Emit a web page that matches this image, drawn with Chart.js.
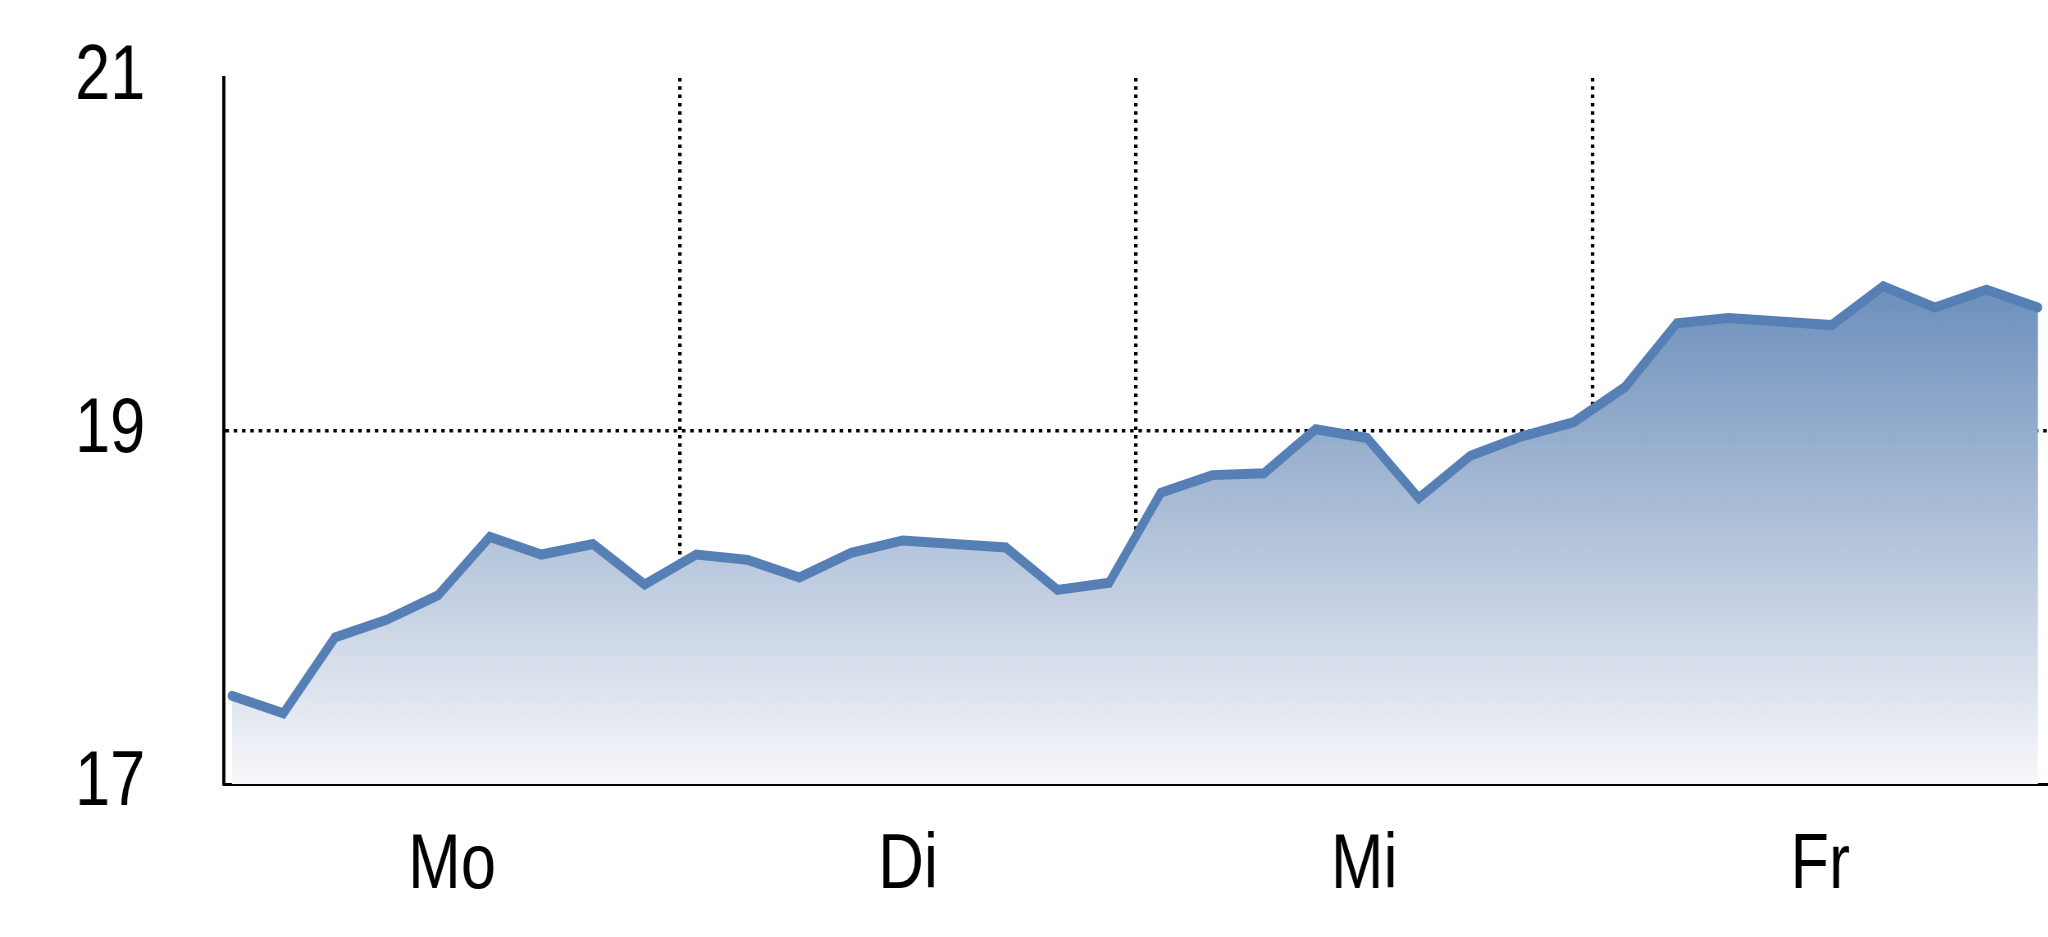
<!DOCTYPE html>
<html>
<head>
<meta charset="utf-8">
<script src="https://cdn.jsdelivr.net/npm/chart.js@4"></script>
<style>
  html, body { margin: 0; padding: 0; background: #fff; overflow: hidden; }
  #wrap { width: 2048px; height: 937px; position: relative; overflow: hidden; }
  /* the labels in the original use a narrow face: draw wider, squeeze back to 2048 */
  #chart { transform: scaleX(0.82); transform-origin: 0 0; }
</style>
</head>
<body>
<div id="wrap"><canvas id="chart" width="2498" height="937"></canvas></div>
<script>
// day labels on the x axis
const days = ['Mo', 'Di', 'Mi', 'Fr'];

// y axis ticks
const yTicks = [17, 19, 21];

// readings, one every step
const steps = [0, 1, 2, 3, 4, 5, 6, 7, 8, 9, 10, 11, 12, 13, 14, 15, 16, 17,
               18, 19, 20, 21, 22, 23, 24, 25, 26, 27, 28, 29, 30, 31, 32, 33, 34, 35];
const values = [17.50, 17.40, 17.83, 17.93, 18.07, 18.40, 18.30, 18.36, 18.13,
                18.30, 18.27, 18.17, 18.31, 18.38, 18.36, 18.34, 18.10, 18.14,
                18.65, 18.75, 18.76, 19.01, 18.96, 18.62, 18.86, 18.97, 19.05,
                19.25, 19.61, 19.64, 19.62, 19.60, 19.82, 19.70, 19.80, 19.70];

const SQUEEZE = 0.82; // same as the css scaleX
const fontFamily = "'Liberation Sans', Arial, sans-serif";

const canvas = document.getElementById('chart');

function areaGradient(context) {
    const { ctx, chartArea } = context.chart;
    if (!chartArea) return 'rgba(110,145,188,0.5)';
    const g = ctx.createLinearGradient(0, chartArea.top, 0, chartArea.bottom);
    g.addColorStop(0, 'rgb(92,128,178)');
    g.addColorStop(0.32, 'rgb(112,147,190)');
    g.addColorStop(0.55, 'rgb(158,180,209)');
    g.addColorStop(1, 'rgb(248,248,250)');
    return g;
}

new Chart(canvas, {
    type: 'line',
    data: {
        datasets: [{
            data: steps.map((s, i) => ({ x: s, y: values[i] })),
            xAxisID: 'xi',
            borderColor: 'rgb(86,128,181)',
            borderWidth: 10,
            backgroundColor: areaGradient,
            fill: 'origin',
            pointRadius: 0,
            tension: 0,
            borderJoinStyle: 'miter',
            borderCapStyle: 'round'
        }]
    },
    options: {
        responsive: false,
        devicePixelRatio: 1,
        animation: false,
        layout: { padding: 0 },
        plugins: {
            legend: { display: false },
            tooltip: { enabled: false }
        },
        scales: {
            x: {
                type: 'category',
                labels: days,
                offset: true,
                position: 'bottom',
                grid: {
                    offset: true,
                    drawTicks: false,
                    lineWidth: 3.5 / SQUEEZE,
                    // only the three day boundaries inside the plot
                    color: ctx => (ctx.tick && ctx.index > 0) ? '#000' : 'rgba(0,0,0,0)'
                },
                border: { display: true, color: '#000', width: 3, dash: [3.5, 4.8] },
                ticks: {
                    color: '#000',
                    padding: 37,
                    font: { family: fontFamily, size: 77 }
                },
                afterFit(scale) {
                    scale.height = 153;
                    scale.paddingLeft = 0;
                    scale.paddingRight = 0;
                }
            },
            xi: {
                type: 'linear',
                display: false,
                min: -0.15,
                max: 35.2
            },
            y: {
                min: 17,
                max: 21,
                afterBuildTicks(scale) { scale.ticks = yTicks.map(v => ({ value: v })); },
                grid: {
                    drawTicks: false,
                    lineWidth: 3.5,
                    color: ctx => (ctx.tick && ctx.tick.value === 19) ? '#000' : 'rgba(0,0,0,0)'
                },
                border: { display: true, color: '#000', width: 3.2 / SQUEEZE, dash: [3.5 / SQUEEZE, 4.8 / SQUEEZE] },
                ticks: {
                    color: '#000',
                    padding: 96,
                    font: { family: fontFamily, size: 77 }
                },
                afterFit(scale) {
                    scale.width = 224 / SQUEEZE;
                    scale.paddingTop = 78;
                    scale.paddingBottom = 0;
                }
            }
        }
    }
});
</script>
</body>
</html>
